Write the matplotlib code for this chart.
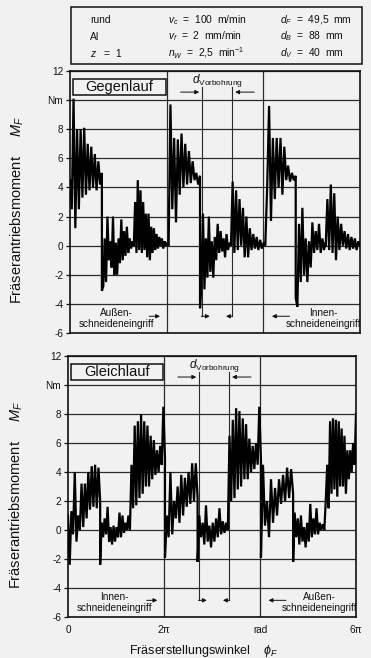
import numpy as np
import matplotlib.pyplot as plt
from matplotlib.patches import Rectangle

plt.rcParams['font.family'] = ['Liberation Sans', 'DejaVu Sans']
plt.rcParams['mathtext.fontset'] = 'custom'
plt.rcParams['mathtext.rm'] = 'Liberation Sans'
plt.rcParams['mathtext.it'] = 'Liberation Sans:italic'
plt.rcParams['mathtext.sf'] = 'Liberation Sans'

# --- data (angle in units of pi, moment in Nm) ---
# each segment runs from breaks[i] to breaks[i+1]; values are the zigzag peaks
gegen_breaks = [0.0, 0.66, 1.32, 2.04, 2.69, 3.33, 4.04, 4.67, 5.29, 6.0]
gegen_segments = [
    [4.5, 2.5, 10.1, 1.2, 8.0, 2.5, 8.0, 3.3, 8.1, 3.5, 7.0, 3.8, 6.8, 4.0, 6.3, 3.8, 5.8, 4.2, 5.0],
    [-3.1, -2.8, 0.5, -2.5, 2.0, -1.0, 0.3, -1.5, 2.0, -2.0, 0.2, -2.0, 0.5, -1.2, 1.8, -1.0,
     1.0, -0.7, 1.3, -0.5, 0.5, -0.2, 0.3, 0.0],
    [0.0, 3.0, -0.5, 4.5, -0.3, 3.8, -0.5, 3.0, -0.3, 2.2, -0.8, 2.2, -1.0, 1.3, -0.5, 1.2,
     -0.3, 0.8, -0.2, 0.6, 0.0, 0.5, -0.2, 0.3, 0.0, 0.2, 0.0],
    [0.0, 9.7, 2.5, 7.4, 1.6, 7.3, 3.5, 7.7, 4.0, 7.0, 4.2, 6.5, 4.3, 5.8, 4.5, 5.0, 4.2, 4.8],
    [-4.3, -2.5, 2.2, -3.0, 0.5, -2.2, 2.0, -1.8, 0.3, -2.2, 0.6, -1.0, 1.5, -0.5, 1.0, -0.4,
     0.5, -0.8, 0.8, -0.3, 0.2, 0.0],
    [0.0, 4.4, -0.5, 3.8, -0.3, 3.2, 0.0, 2.6, -0.8, 2.0, -0.8, 1.2, -0.3, 0.8, -0.2, 0.6,
     -0.3, 0.4, -0.2, 0.2, 0.0],
    [0.0, 4.0, 9.6, 1.7, 7.4, 3.2, 7.4, 4.0, 7.4, 3.5, 6.8, 4.5, 5.5, 4.4, 5.0, 4.5, 4.8],
    [-3.6, -4.2, 1.5, -2.5, 2.6, -2.0, 0.5, -2.5, 0.3, -1.5, 1.6, -0.5, 1.0, -0.3, 1.5, -0.5,
     0.5, -0.3, 0.2],
    [0.0, 3.2, -0.3, 4.2, -0.5, 3.6, -1.0, 2.0, -0.3, 1.5, 0.0, 1.0, -0.2, 0.8, -0.3, 0.6,
     -0.2, 0.5, -0.3, 0.3, 0.0],
]

gleich_breaks = [0.0, 0.67, 1.29, 2.02, 2.70, 3.33, 4.02, 4.69, 5.34, 6.0]
gleich_segments = [
    [1.0, -2.4, 1.3, -0.3, 4.0, -0.8, 1.0, 0.0, 3.2, 0.2, 3.2, 0.8, 4.0, 1.4, 4.4, 1.6, 4.5,
     1.5, 4.3, 2.0],
    [-2.4, 0.5, -0.5, 0.8, -0.3, 1.6, -0.8, 0.2, -1.0, 0.3, -0.8, 0.2, -0.5, 1.2, -0.5, 1.0,
     -0.2, 0.5, 0.0, 1.0, 0.0],
    [0.0, 4.5, 1.5, 7.2, 1.7, 7.5, 2.2, 8.0, 2.5, 7.5, 3.0, 7.2, 3.0, 6.5, 3.5, 6.2, 3.8, 5.5,
     4.0, 5.8, 4.5, 8.5, 5.0],
    [-1.9, 1.0, -0.5, 4.0, -0.3, 2.0, 0.8, 3.0, 0.5, 3.8, 1.0, 3.6, 1.6, 4.0, 1.8, 4.6, 2.0,
     4.6, 2.2],
    [-2.2, 1.0, -0.5, 0.5, -1.0, 1.7, -0.8, 0.3, -1.2, 0.5, -0.8, 0.8, -0.5, 1.5, -0.3, 0.6,
     -0.2, 0.5, 0.0],
    [0.0, 6.5, 2.0, 7.6, 2.2, 8.4, 2.8, 8.2, 3.0, 7.7, 3.5, 7.3, 3.5, 6.3, 4.0, 5.8, 4.2, 6.0,
     4.5, 8.5, 4.8],
    [-1.9, 4.5, 0.3, 2.0, -0.5, 3.5, 0.5, 2.9, 1.0, 3.5, 1.8, 3.8, 2.0, 4.3, 2.2, 4.2, 2.5],
    [-2.2, 1.2, -0.5, 0.8, -1.0, 1.0, -0.8, 0.2, -1.2, 0.5, -0.8, 1.8, -0.5, 0.8, -0.3, 1.5,
     -0.3, 0.5, 0.0, 0.4, 0.0],
    [0.0, 2.0, 4.5, 1.5, 7.5, 2.5, 7.7, 2.8, 7.6, 2.3, 7.5, 3.0, 7.0, 3.0, 6.5, 2.5, 5.5, 3.5,
     5.5, 4.0, 6.0, 4.5, 8.0],
]

yticks = [-6, -4, -2, 0, 2, 4, 6, 8, 10, 12]
ytick_labels = ['-6', '-4', '-2', '0', '2', '4', '6', '8', 'Nm', '12']
xticks = [0, 2, 4, 6]
xtick_labels = ['0', '2\u03c0', 'rad', '6\u03c0']
d_bore = [2.73, 3.36]   # d_Vorbohrung marks (units of pi)

info_rows = [
    ['rund', '$v_c$  =  100  m/min', '$d_F$  =  49,5  mm'],
    ['Al', '$v_f$  =  2  mm/min', '$d_B$  =  88  mm'],
    ['$z$   =  1', '$n_W$  =  2,5  min$^{-1}$', '$d_V$  =  40  mm'],
]

bg = '#f1f1f1'
ink = '#111111'


def trace(breaks, segments):
    xs = [np.linspace(a, b, len(v)) for a, b, v in zip(breaks[:-1], breaks[1:], segments)]
    ys = [np.array(v) for v in segments]
    return np.pi * np.concatenate(xs), np.concatenate(ys)


fig = plt.figure(figsize=(3.71, 6.58), dpi=100, facecolor=bg)
ax1 = fig.add_axes([70 / 371, 1 - 333 / 658, 290 / 371, 262 / 658])
ax2 = fig.add_axes([68 / 371, 1 - 617 / 658, 288 / 371, 261 / 658])

# info box on top
fig.patches.append(Rectangle((71 / 371, 1 - 64 / 658), 291 / 371, 57 / 658,
                             transform=fig.transFigure, fill=False, ec=ink, lw=1.1))
for r, row in enumerate(info_rows):
    for c, txt in enumerate(row):
        fig.text([90, 168, 280][c] / 371, 1 - (20 + 16.5 * r) / 658, txt,
                 fontsize=7.4, va='center', ha='left', color=ink)

panels = [
    (ax1, gegen_breaks, gegen_segments, 'Gegenlauf',
     'Au\u00dfen-\nschneideneingriff', 'Innen-\nschneideneingriff'),
    (ax2, gleich_breaks, gleich_segments, 'Gleichlauf',
     'Innen-\nschneideneingriff', 'Au\u00dfen-\nschneideneingriff'),
]

for ax, brk, segs, title, left_txt, right_txt in panels:
    ax.set_facecolor(bg)
    x, y = trace(brk, segs)
    ax.plot(x, y, color='black', lw=1.6, zorder=3, solid_joinstyle='miter')
    ax.set_xlim(0, 6 * np.pi)
    ax.set_ylim(-6, 12)
    ax.set_yticks(yticks)
    ax.set_yticklabels(ytick_labels)
    ax.set_xticks([t * np.pi for t in xticks])
    for yy in yticks:
        ax.axhline(yy, color='#2a2a2a', lw=0.9, zorder=1)
    for xx in [2, 4]:
        ax.axvline(xx * np.pi, color='#2a2a2a', lw=0.9, zorder=1)
    for s in ax.spines.values():
        s.set_linewidth(1.2)
        s.set_color(ink)
    ax.tick_params(axis='y', length=3, width=0.9, labelsize=7.2, pad=2, colors=ink)
    ax.tick_params(axis='x', length=0, labelsize=7.2, pad=6, colors=ink)

    # title box
    ax.add_patch(Rectangle((0.012, 0.908), 0.318, 0.062, transform=ax.transAxes,
                           fill=False, ec=ink, lw=1.1, zorder=4))
    ax.text(0.171, 0.939, title, transform=ax.transAxes, ha='center', va='center',
            fontsize=10.5, color=ink, zorder=5)

    # d_Vorbohrung dimension
    for xd in d_bore:
        ax.plot([xd * np.pi, xd * np.pi], [-4.85, 10.9], color='#2a2a2a', lw=0.8, zorder=2)
    ax.text(np.mean(d_bore) * np.pi, 11.35, r'$d_{\mathrm{Vorbohrung}}$', ha='center',
            va='center', fontsize=8.5, color=ink)
    arr = dict(arrowstyle='-|>', color=ink, lw=0.7, mutation_scale=6)
    ax.annotate('', xy=(d_bore[0] * np.pi, 10.55), xytext=(2.23 * np.pi, 10.55), arrowprops=arr)
    ax.annotate('', xy=(d_bore[1] * np.pi, 10.55), xytext=(3.87 * np.pi, 10.55), arrowprops=arr)

    # engagement arrows along the bottom
    ax.annotate('', xy=(1.92 * np.pi, -4.85), xytext=(1.58 * np.pi, -4.85), arrowprops=arr)
    ax.annotate('', xy=(2.95 * np.pi, -4.85), xytext=(2.66 * np.pi, -4.85), arrowprops=arr)
    ax.annotate('', xy=(3.17 * np.pi, -4.85), xytext=(3.42 * np.pi, -4.85), arrowprops=arr)
    ax.annotate('', xy=(4.12 * np.pi, -4.85), xytext=(4.6 * np.pi, -4.85), arrowprops=arr)
    ax.text(0.96 * np.pi, -5.0, left_txt, ha='center', va='center', fontsize=7.2,
            linespacing=1.15, color=ink)
    ax.text(5.24 * np.pi, -5.0, right_txt, ha='center', va='center', fontsize=7.2,
            linespacing=1.15, color=ink)

    ax.set_ylabel('Fr\u00e4serantriebsmoment     $M_F$', fontsize=10.5, color=ink)
    ax.yaxis.set_label_coords(-0.15, 0.47)

ax1.set_xticklabels([])
ax2.set_xticklabels(xtick_labels)
ax2.set_xlabel('Fr\u00e4serstellungswinkel    $\\phi_F$', fontsize=9, color=ink)
ax2.xaxis.set_label_coords(0.47, -0.098)

fig.savefig('out.png', dpi=100, facecolor=bg)
